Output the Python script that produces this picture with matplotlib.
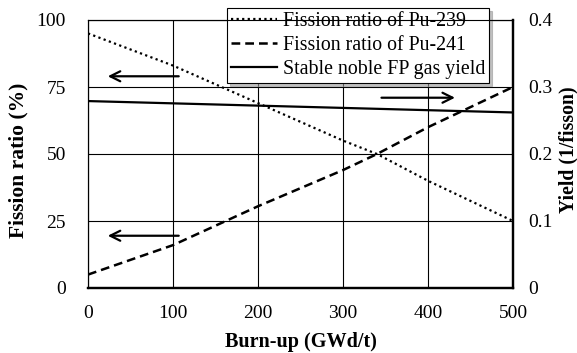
import matplotlib
matplotlib.use('Agg')
import matplotlib.pyplot as plt

plt.rcParams['font.family'] = ['Liberation Serif', 'DejaVu Serif']
plt.rcParams['font.size'] = 14

# data
burnup = [0, 100, 200, 300, 340, 400, 500]
pu239 = [95, 83, 69, 55, 50, 40, 25]
pu241_burnup = [0, 100, 200, 300, 340, 400, 500]
pu241 = [5, 16, 30.5, 44, 50, 60, 75]
yield_burnup = [0, 500]
gas_yield = [0.279, 0.262]

fig = plt.figure(figsize=(5.77, 3.53), dpi=100)
ax = fig.add_axes([88 / 577, 1 - 288 / 353, 425 / 577, 268 / 353])
ax2 = ax.twinx()

l1, = ax.plot(burnup, pu239, color='black', linestyle=(0, (1, 1.5)), lw=1.6,
              label='Fission ratio of Pu-239')
l2, = ax.plot(pu241_burnup, pu241, color='black', linestyle=(0, (3.5, 2)), lw=1.8,
              label='Fission ratio of Pu-241')
l3, = ax2.plot(yield_burnup, gas_yield, color='black', lw=1.6,
               label='Stable noble FP gas yield')

ax.set_xlim(0, 500)
ax.set_ylim(0, 100)
ax2.set_ylim(0, 0.4)
ax.set_xticks([0, 100, 200, 300, 400, 500])
ax.set_yticks([0, 25, 50, 75, 100])
ax2.set_yticks([0, 0.1, 0.2, 0.3, 0.4])
ax2.set_yticklabels(['0', '0.1', '0.2', '0.3', '0.4'])
ax.grid(True, color='black', lw=0.8)
ax.tick_params(axis='y', length=0, pad=16, labelsize=14)
ax.tick_params(axis='x', length=0, pad=12, labelsize=14)
ax2.tick_params(length=0, pad=11, labelsize=14)

for a in (ax, ax2):
    for s in a.spines.values():
        s.set_linewidth(0.8)
    a.spines['bottom'].set_linewidth(1.6)
    a.spines['right'].set_linewidth(1.6)

ax.set_xlabel('Burn-up (GWd/t)', fontweight='bold', fontsize=14.5)
ax.set_ylabel('Fission ratio (%)', fontweight='bold', fontsize=15.5)
ax2.set_ylabel('Yield (1/fisson)', fontweight='bold', fontsize=14.2)
ax.xaxis.set_label_coords(0.5, -(342 - 288) / 268, transform=ax.transAxes)
ax.yaxis.set_label_coords(-(88 - 18) / 425, (288 - 160) / 268)
ax2.yaxis.set_label_coords(1 + (568 - 513) / 425, (288 - 150) / 268)
ax.xaxis.label.set_va('center')
ax.yaxis.label.set_va('center')
ax2.yaxis.label.set_va('center')

# arrows pointing to the axis each line belongs to
arrow = dict(arrowstyle='->', color='black', lw=1.6, mutation_scale=18)
ax.annotate('', xy=(20, 79), xytext=(110, 79), arrowprops=arrow)
ax.annotate('', xy=(20, 19.5), xytext=(110, 19.5), arrowprops=arrow)
ax.annotate('', xy=(435, 71), xytext=(342, 71), arrowprops=arrow)

leg = ax.legend(handles=[l1, l2, l3], loc='upper left',
                bbox_to_anchor=(227 / 577, 1 - 8 / 353), bbox_transform=fig.transFigure,
                fontsize=14.3, frameon=True, fancybox=False, shadow={'color': '0.6', 'alpha': 0.6},
                handlelength=2.3, handletextpad=0.3, borderpad=0.2,
                labelspacing=0.25, borderaxespad=0)
leg.get_frame().set_edgecolor('black')
leg.get_frame().set_linewidth(0.8)
leg.set_zorder(10)

fig.savefig('out.png', dpi=100)
